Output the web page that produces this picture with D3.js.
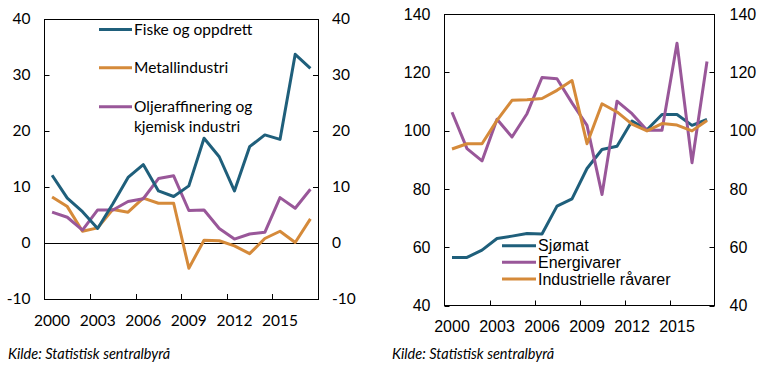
<!DOCTYPE html>
<html><head><meta charset="utf-8">
<script src="https://cdn.jsdelivr.net/npm/d3@7"></script>
<style>body{margin:0;background:#fff}svg{display:block}</style>
</head><body><svg id="c" width="762" height="368"></svg>
<script>
const years = d3.range(2000, 2018).map(String);
const tickYears = ["2000","2003","2006","2009","2012","2015"];
const leftTicks = [-10,0,10,20,30,40];
const rightTicks = [40,60,80,100,120,140];
const fiske = [12.1,8.0,5.6,2.6,7.0,11.7,14.0,9.3,8.3,10.2,18.7,15.4,9.3,17.2,19.3,18.5,33.7,31.2];
const metall = [8.2,6.5,2.1,2.7,6.0,5.5,8.0,7.1,7.1,-4.5,0.5,0.4,-0.5,-1.9,0.8,2.1,0.1,4.3];
const olje = [5.5,4.6,2.3,5.9,5.9,7.4,7.9,11.5,12.0,5.8,5.9,2.6,0.7,1.6,1.9,8.1,6.2,9.6];
const sjomat = [56.5,56.5,59.0,63.0,63.8,64.7,64.5,74.1,76.6,87.0,93.5,94.6,103.3,100.3,105.5,105.5,101.8,103.8];
const energi = [106.3,93.8,89.6,103.9,97.8,105.8,118.2,117.8,109.5,101.8,78.1,110.1,105.8,100.1,100.1,130.0,89.0,123.7];
const industri = [93.7,95.5,95.5,103.5,110.4,110.6,111.0,113.8,117.2,95.5,109.2,106.4,102.2,99.9,102.4,101.9,99.9,103.5];
const leftNames = ["Fiske og oppdrett","Metallindustri","Oljeraffinering og|kjemisk industri"];
const rightNames = ["Sjømat","Energivarer","Industrielle råvarer"];
const source = "Kilde: Statistisk sentralbyrå";

const C = {blue:"#1f5f7b", orange:"#d58a3a", purple:"#995799"};
const svg = d3.select("#c");

function panel(opt){
  const g = svg.append("g");
  const x = d3.scaleBand().domain(years).range([opt.x0, opt.x1]);
  const y = d3.scaleLinear().domain(opt.dom).range([opt.y1, opt.y0]);
  g.append("rect").attr("x",opt.x0).attr("y",opt.y0).attr("width",opt.x1-opt.x0).attr("height",opt.y1-opt.y0)
   .attr("fill","none").attr("stroke","#000").attr("stroke-width",1).attr("shape-rendering","crispEdges");
  opt.ticks.forEach(t=>{
    const yy = Math.round(y(t))+0.5;
    g.append("line").attr("x1",opt.x0).attr("x2",opt.x0+5).attr("y1",yy).attr("y2",yy).attr("stroke","#000");
    g.append("line").attr("x1",opt.x1-5).attr("x2",opt.x1).attr("y1",yy).attr("y2",yy).attr("stroke","#000");
    g.append("text").attr("x",opt.x0-opt.lpad).attr("y",y(t)).attr("dy","0.35em").attr("text-anchor","end")
      .attr("font-family",opt.font).attr("font-size",opt.fs).attr("fill","#000").text(t);
    g.append("text").attr("x",opt.x1+opt.rpad).attr("y",y(t)).attr("dy","0.35em").attr("text-anchor","start")
      .attr("font-family",opt.font).attr("font-size",opt.fs).attr("fill","#000").text(t);
  });
  tickYears.slice(1).forEach(t=>{
    const xx = Math.round(x(t))+0.5;
    g.append("line").attr("x1",xx).attr("x2",xx).attr("y1",opt.y1-5).attr("y2",opt.y1).attr("stroke","#000");
  });
  tickYears.forEach(t=>{
    g.append("text").attr("x",x(t)+x.bandwidth()/2).attr("y",opt.xly).attr("text-anchor","middle")
      .attr("font-family",opt.font).attr("font-size",opt.fs).attr("fill","#000").text(t);
  });
  if (opt.zero){
    const yy = Math.round(y(0))+0.5;
    g.append("line").attr("x1",opt.x0).attr("x2",opt.x1).attr("y1",yy).attr("y2",yy).attr("stroke","#000");
  }
  const line = d3.line().x((d,i)=>x(years[i])+x.bandwidth()/2).y(d=>y(d));
  opt.series.forEach(s=>{
    g.append("path").attr("d",line(s.v)).attr("fill","none").attr("stroke",s.c).attr("stroke-width",3)
     .attr("stroke-linejoin","round");
  });
  opt.legend.forEach((l,i)=>{
    const ly = opt.leg.y[i];
    g.append("line").attr("x1",opt.leg.x).attr("x2",opt.leg.x+opt.leg.w).attr("y1",ly).attr("y2",ly)
      .attr("stroke",l.c).attr("stroke-width",3);
    const parts = l.n.split("|");
    parts.forEach((p,j)=>{
      g.append("text").attr("x",opt.leg.x+opt.leg.w+2).attr("y",ly+j*opt.leg.lh).attr("dy","0.35em")
       .attr("font-family",opt.font).attr("font-size",opt.legfs).attr("fill","#000").text(p);
    });
  });
  g.append("text").attr("x",opt.srcx).attr("y",359).attr("font-family","Lato, 'Noto Sans', sans-serif").attr("font-style","italic")
   .attr("font-size",14.5).attr("fill","#000").text(source);
}

panel({x0:44.5,x1:318,y0:19,y1:299,dom:[-10,40],ticks:leftTicks,font:"Lato, 'Noto Sans', sans-serif",fs:15.5,
  lpad:14,rpad:14,xly:326,zero:true,
  series:[{v:metall,c:C.orange},{v:olje,c:C.purple},{v:fiske,c:C.blue}],
  legend:[{n:leftNames[0],c:C.blue},{n:leftNames[1],c:C.orange},{n:leftNames[2],c:C.purple}],
  leg:{x:99,w:33,y:[29.5,67.7,106.7],lh:20},legfs:15.5,srcx:8});

panel({x0:444.5,x1:714.5,y0:14,y1:305.5,dom:[40,140],ticks:rightTicks,font:"'Liberation Sans', Arial, sans-serif",fs:16,
  lpad:14,rpad:15,xly:332,zero:false,
  series:[{v:sjomat,c:C.blue},{v:energi,c:C.purple},{v:industri,c:C.orange}],
  legend:[{n:rightNames[0],c:C.blue},{n:rightNames[1],c:C.purple},{n:rightNames[2],c:C.orange}],
  leg:{x:502,w:34,y:[245.7,262.3,279],lh:0},legfs:16,srcx:392});
</script></body></html>
